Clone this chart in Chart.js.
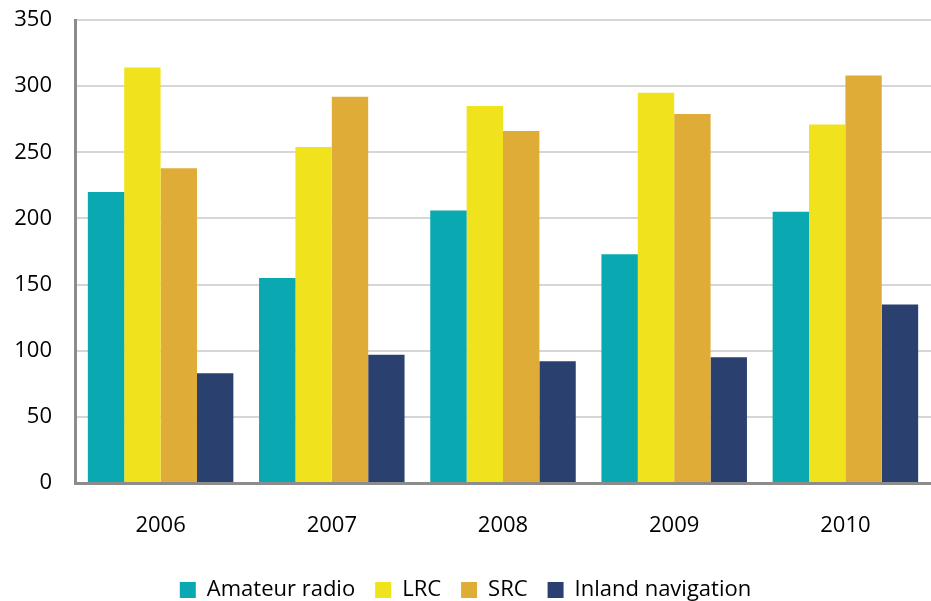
<!DOCTYPE html>
<html>
<head>
<meta charset="utf-8">
<script src="https://cdn.jsdelivr.net/npm/chart.js@4"></script>
<style>
  html, body { margin: 0; padding: 0; background: #fff; }
  #wrap { width: 931px; height: 601px; }
</style>
</head>
<body>
<div id="wrap"><canvas id="radioChart" width="931" height="601"></canvas></div>
<script>
// Certificates per year
const years = ['2006', '2007', '2008', '2009', '2010'];
const amateurRadio = [220, 155, 206, 173, 205];
const lrc = [314, 254, 285, 295, 271];
const src = [238, 292, 266, 279, 308];
const inlandNavigation = [83, 97, 92, 95, 135];
const yTicks = [0, 50, 100, 150, 200, 250, 300, 350];

const font = { family: "'Open Sans', 'Liberation Sans', sans-serif", size: 22 };

const ctx = document.getElementById('radioChart').getContext('2d');
new Chart(ctx, {
  type: 'bar',
  data: {
    labels: years,
    datasets: [
      { label: 'Amateur radio', data: amateurRadio, backgroundColor: '#0aa8b0' },
      { label: 'LRC', data: lrc, backgroundColor: '#f0e21c' },
      { label: 'SRC', data: src, backgroundColor: '#e0ac38' },
      { label: 'Inland navigation', data: inlandNavigation, backgroundColor: '#2a4170' }
    ]
  },
  options: {
    responsive: false,
    animation: false,
    layout: { padding: { top: 20, right: 0, left: 0, bottom: -10 } },
    datasets: { bar: { categoryPercentage: 0.85, barPercentage: 1 } },
    plugins: {
      tooltip: { enabled: false },
      legend: {
        position: 'bottom',
        labels: { color: '#000', font: font, boxWidth: 16, boxHeight: 16, padding: 20 }
      }
    },
    scales: {
      x: {
        grid: { display: false },
        border: { color: '#8c8c8c', width: 3 },
        ticks: { color: '#000', font: font, padding: 22 },
        afterFit: (axis) => { axis.height = 76; }
      },
      y: {
        min: 0,
        max: 350,
        afterBuildTicks: (axis) => { axis.ticks = yTicks.map(v => ({ value: v })); },
        grid: { color: '#d6d6d6', lineWidth: 2, drawTicks: false },
        border: { color: '#8c8c8c', width: 3 },
        ticks: { color: '#000', font: font, padding: 23 },
        afterFit: (axis) => {
          axis.width = 75;
          axis.paddingTop = 0;
          axis.paddingBottom = 0;
        }
      }
    }
  }
});
</script>
</body>
</html>
